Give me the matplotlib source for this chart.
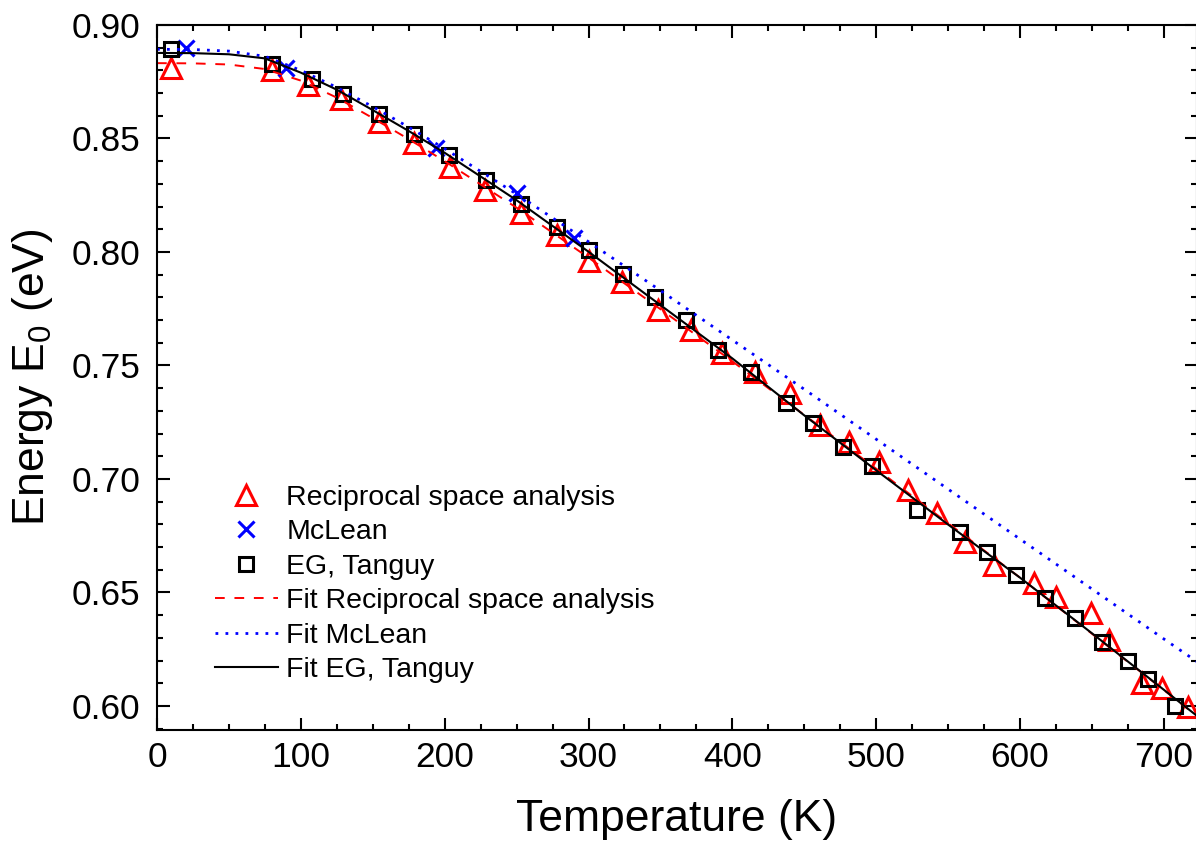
import matplotlib
matplotlib.use("Agg")
import matplotlib.pyplot as plt
from matplotlib.ticker import MultipleLocator

plt.rcParams['font.family'] = ['Liberation Sans', 'DejaVu Sans']
plt.rcParams['mathtext.default'] = 'regular'

# reciprocal space analysis (red triangles)
T_rsa = [10, 80, 105, 128, 154, 179, 204, 228, 253, 278, 300, 323, 348, 371, 393, 416,
         440, 461, 481, 502, 522, 542, 562, 582, 610, 625, 649, 662, 685, 699, 717]
E_rsa = [0.881, 0.880, 0.8736, 0.8675, 0.8574, 0.8482, 0.8376, 0.8273, 0.817, 0.8075,
         0.7962, 0.7869, 0.7744, 0.7656, 0.7554, 0.7473, 0.738, 0.7238, 0.7164, 0.7076,
         0.6952, 0.6849, 0.6724, 0.662, 0.6542, 0.6482, 0.6408, 0.6291, 0.610, 0.6078, 0.5997]

# McLean (blue crosses)
T_mclean = [20, 90, 194, 250, 290]
E_mclean = [0.8897, 0.8809, 0.8457, 0.8259, 0.806]

# EG, Tanguy (black squares)
T_tanguy = [10, 80, 108, 129, 154, 179, 203, 229, 253, 278, 300, 324, 346, 368, 390, 413,
            437, 456, 477, 497, 528, 558, 577, 597, 617, 638, 657, 675, 689, 708]
E_tanguy = [0.8893, 0.8829, 0.8762, 0.8696, 0.8607, 0.852, 0.8427, 0.8317, 0.821, 0.811,
            0.8009, 0.7903, 0.7803, 0.770, 0.7568, 0.7473, 0.7333, 0.7245, 0.7142, 0.7057,
            0.6863, 0.6768, 0.668, 0.6577, 0.6476, 0.6386, 0.6283, 0.620, 0.6119, 0.6001]

# fit curves
T_fit = [0, 25, 50, 75, 100, 125, 150, 175, 200, 250, 300, 350, 400, 450, 500, 550, 600, 650, 700, 723]
E_fit_rsa = [0.8832, 0.8831, 0.8826, 0.8806, 0.8755, 0.868, 0.859, 0.8497, 0.8400, 0.8195,
             0.7975, 0.7748, 0.7518, 0.7282, 0.7045, 0.6805, 0.6565, 0.6318, 0.6070, 0.5955]
E_fit_mclean = [0.8893, 0.8892, 0.8885, 0.8862, 0.8800, 0.8725, 0.864, 0.855, 0.8455, 0.8255,
                0.8045, 0.7830, 0.7612, 0.7395, 0.7175, 0.6955, 0.6735, 0.6515, 0.6295, 0.6195]
E_fit_tanguy = [0.8877, 0.8876, 0.8871, 0.8853, 0.8790, 0.8715, 0.8625, 0.8533, 0.8437, 0.8228,
                0.8001, 0.7766, 0.7531, 0.7280, 0.7038, 0.6799, 0.6565, 0.6320, 0.6071, 0.5956]

fig = plt.figure(figsize=(11.96, 8.48), dpi=100)
ax = fig.add_axes([157 / 1196, 118 / 848, 1040 / 1196, 705 / 848])

ax.plot(T_rsa, E_rsa, linestyle='none', marker='^', ms=14, mfc='none', mec='#ff0000',
        mew=2.2, label='Reciprocal space analysis')
ax.plot(T_mclean, E_mclean, linestyle='none', marker='x', ms=12, mec='#0000ff',
        mew=2.2, label='McLean')
ax.plot(T_tanguy, E_tanguy, linestyle='none', marker='s', ms=10.5, mfc='none', mec='black',
        mew=2.2, label='EG, Tanguy')
ax.plot(T_fit, E_fit_rsa, color='#ff0000', lw=1.4, dashes=(5, 5),
        label='Fit Reciprocal space analysis')
ax.plot(T_fit, E_fit_mclean, color='#0000ff', lw=2, dashes=(1, 2.6),
        label='Fit McLean')
ax.plot(T_fit, E_fit_tanguy, color='black', lw=1.5, label='Fit EG, Tanguy')

ax.set_xlim(0, 723)
ax.set_ylim(0.5894, 0.90)
ax.xaxis.set_major_locator(MultipleLocator(100))
ax.xaxis.set_minor_locator(MultipleLocator(25))
ax.yaxis.set_major_locator(MultipleLocator(0.05))
ax.yaxis.set_minor_locator(MultipleLocator(0.01))
ax.yaxis.set_major_formatter(plt.FormatStrFormatter('%.2f'))

ax.tick_params(which='both', direction='in', top=True, right=True, width=1.5)
ax.tick_params(which='major', length=9, labelsize=25.5)
ax.tick_params(axis='x', which='major', pad=8)
ax.tick_params(axis='y', which='major', pad=12)
ax.tick_params(which='minor', length=4.5)
for s in ax.spines.values():
    s.set_linewidth(1.5)

ax.set_xlabel('Temperature (K)', fontsize=32, labelpad=18)
ax.set_ylabel('Energy E$_0$ (eV)', fontsize=32, labelpad=12)

ax.legend(loc='upper left', bbox_to_anchor=(0.0558, 0.348), frameon=False, fontsize=20.5,
          numpoints=1, handlelength=2.2, handletextpad=0.3, labelspacing=0.3,
          borderpad=0, borderaxespad=0)

fig.savefig('out.png', dpi=100)
